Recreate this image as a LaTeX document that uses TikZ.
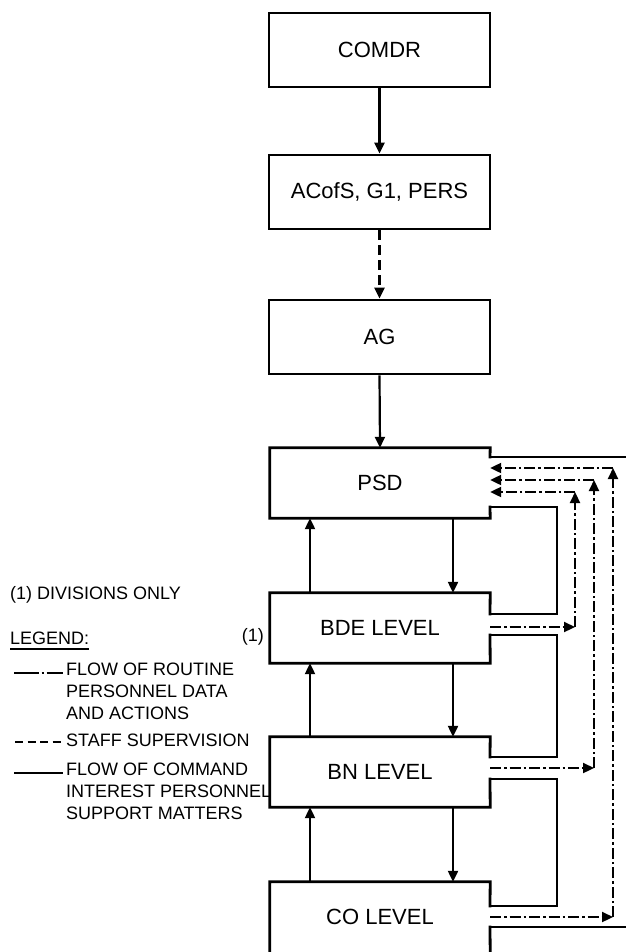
\documentclass[tikz,border=0pt]{standalone}
\usepackage{fontspec}
\setmainfont{Liberation Sans}
\usetikzlibrary{arrows.meta,calc}
\newcommand{\boxfont}{\fontsize{22}{24}\selectfont}
\newcommand{\legfont}{\fontsize{18}{22}\selectfont}
\tikzset{
  unitbox/.style={draw, line width=2.8pt, minimum width=221pt, minimum height=74pt,
                  inner sep=0pt, font=\boxfont},
  levelbox/.style={minimum width=220pt, minimum height=70pt, inner sep=0pt, font=\boxfont},
  frameline/.style={line width=2.8pt, line cap=rect},
  flow/.style={-{Triangle[length=11pt,width=10pt]}, line width=2.2pt},
  staff/.style={flow, dash pattern=on 10pt off 5pt},
  routine/.style={-{Triangle[length=11pt,width=10pt]}, line width=2.2pt,
                  dash pattern=on 11pt off 3pt on 2.5pt off 3pt},
  legtext/.style={font=\legfont, align=left, inner sep=0pt}
}
\begin{document}
\begin{tikzpicture}[x=1pt,y=-1pt]
  \useasboundingbox (0,0) rectangle (625,952);
  \node[unitbox] (comdr) at (379.5,50) {COMDR};
  \node[unitbox] (acofs) at (379.5,192) {ACofS, G1, PERS};
  \node[unitbox] (ag) at (379.5,337) {AG};
  \node[levelbox] (psd) at (380,483) {PSD};
  \node[levelbox] (bde) at (380,628) {BDE LEVEL};
  \node[levelbox] (bn) at (380,772) {BN LEVEL};
  \node[levelbox] (co) at (380,917) {CO LEVEL};
  \foreach \n/\hi/\lo in {psd/457/507, bde/614/635, bn/757/779, co/906/927} {
    \coordinate (\n-hi) at (490,\hi);
    \coordinate (\n-lo) at (490,\lo);
  }
  \foreach \n in {psd,bde,bn}
    \draw[frameline] (\n-hi) -- (\n.north east) -- (\n.north west) -- (\n.south west)
      -- (\n.south east) -- (\n-lo);
  \draw[frameline] (co-hi) -- (co.north east) -- (co.north west) -- (co.south west);
  \draw[frameline] (co.south east) -- (co-lo);
  \draw[flow] (comdr) -- (acofs);
  \draw[staff] (acofs) -- (ag);
  \draw[flow] (ag.south) -- (psd.north);
  \foreach \a/\b in {psd/bde, bde/bn, bn/co} {
    \draw[flow] ([xshift=73pt]\a.south) -- ([xshift=73pt]\b.north);
    \draw[flow] ([xshift=-70pt]\b.north) -- ([xshift=-70pt]\a.south);
    \draw[frameline] (\a-lo) -- ++(67,0) |- (\b-hi);
  }
  \coordinate (rim-top) at (625,457);
  \coordinate (rim-bot) at (625,927);
  \draw[frameline] (psd-hi) -- (rim-top);
  \draw[frameline] (co-lo) -- (rim-bot);
  \foreach \n/\x/\y/\top in {bde/575/627/492, bn/594/768/480, co/613/917/468} {
    \coordinate (\n-bend) at (\x,\y);
    \coordinate (\n-turn) at (\x,\top);
    \draw[routine] (\n.east |- \n-bend) -- (\n-bend);
    \draw[routine] (\n-bend) -- (\n-turn);
    \draw[routine] (\n-turn) -- (psd.east |- \n-turn);
  }
  \node[legtext, anchor=base west] (note) at (10,599) {(1) DIVISIONS ONLY};
  \node[legtext, anchor=base west] (legtitle) at (10,644) {LEGEND:};
  \draw[line width=1.8pt] ([yshift=-5pt]legtitle.base west) -- ([yshift=-5pt]legtitle.base east);
  \node[legtext, anchor=base east] (divmark) at (264,641) {(1)};
  \node[legtext, anchor=north west] (legroutine) at (66,663)
    {FLOW OF ROUTINE\\PERSONNEL DATA\\AND ACTIONS};
  \node[legtext, anchor=north west] (legstaff) at (66,734) {STAFF SUPERVISION};
  \node[legtext, anchor=north west] (legcommand) at (66,763)
    {FLOW OF COMMAND\\INTEREST PERSONNEL\\SUPPORT MATTERS};
  \draw[line width=2pt, dash pattern=on 25pt off 2.5pt on 2.5pt off 2.5pt on 20pt]
    (14,673) -- (63,673);
  \draw[line width=2.4pt, dash pattern=on 8pt off 4.5pt] (15,742) -- (62,742);
  \draw[line width=2pt] (14,773) -- (63,773);
\end{tikzpicture}
\end{document}
